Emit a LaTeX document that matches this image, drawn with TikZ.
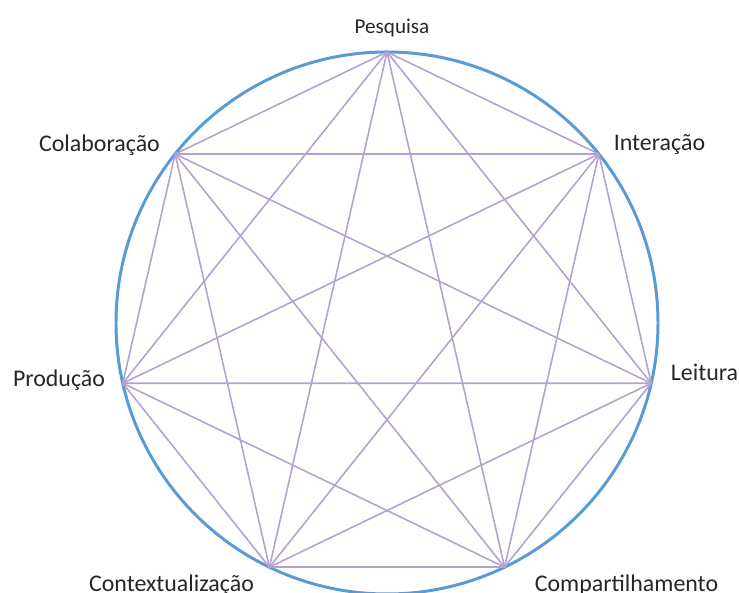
\documentclass[tikz,border=0pt]{standalone}
\usepackage{fontspec}
\setmainfont{Carlito}
\usetikzlibrary{positioning}
\definecolor{ringblue}{RGB}{91,155,213}
\definecolor{chordpurple}{RGB}{180,162,206}

\begin{document}
\begin{tikzpicture}
    % Define styles for the drawing
    \tikzstyle{ring} = [draw=ringblue, line width=0.85pt]
    \tikzstyle{chord} = [draw=chordpurple, line width=0.45pt]
    \tikzstyle{lbl} = [
        text=black!85, inner sep=0,
        font=\fontsize{6.8}{8}\selectfont
    ]

    \useasboundingbox (-3.87,-2.70) rectangle (3.52,3.23);

    % Outer circle
    \draw[ring] (0,0) circle (2.71cm);

    % Vertices of the heptagon
    \foreach \i in {0,...,6}
        \coordinate (v\i) at ({90-\i*360/7}:2.71cm);

    % Chords between every pair of vertices
    \foreach \i in {0,...,5}{
        \pgfmathtruncatemacro{\nxt}{\i+1}
        \foreach \j in {\nxt,...,6}
            \draw[chord] (v\i) -- (v\j);
    }

    % Labels
    \node[lbl, font=\fontsize{6.0}{7}\selectfont] (pesquisa) at (0.05,2.95) {Pesquisa};
    \node[lbl] (interacao) at (2.725,1.78) {Interação};
    \node[lbl] (leitura) at (3.175,-0.49) {Leitura};
    \node[lbl] (compart) at (2.395,-2.62) {Compartilhamento};
    \node[lbl] (context) at (-2.155,-2.62) {Contextualização};
    \node[lbl] (producao) at (-3.28,-0.57) {Produção};
    \node[lbl] (colab) at (-2.875,1.78) {Colaboração};

\end{tikzpicture}
\end{document}
